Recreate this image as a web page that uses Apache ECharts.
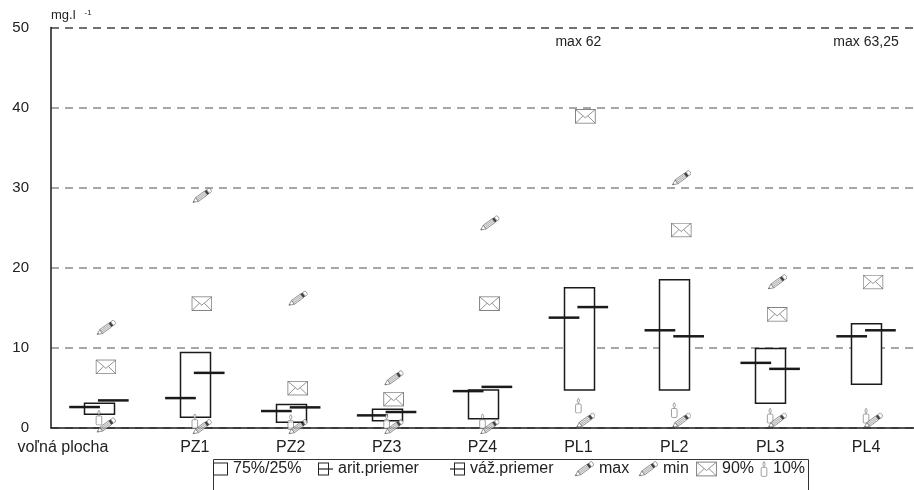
<!DOCTYPE html>
<html>
<head>
<meta charset="utf-8">
<script src="https://cdn.jsdelivr.net/npm/echarts@6/dist/echarts.min.js"></script>
<style>
  html, body { margin: 0; padding: 0; background: #fff; }
  #chart { width: 914px; height: 490px; }
</style>
</head>
<body>
<div id="chart"></div>
<script>
// Sampling points
const categories = ['voľná plocha', 'PZ1', 'PZ2', 'PZ3', 'PZ4', 'PL1', 'PL2', 'PL3', 'PL4'];
// Quartiles (mg/l)
const q25 = [1.67, 1.3, 0.67, 0.87, 1.12, 4.7, 4.7, 3.04, 5.44];
const q75 = [3.04, 9.39, 2.91, 2.29, 4.7, 17.48, 18.48, 9.89, 13.0];
// Arithmetic and weighted means
const aritMean = [2.58, 3.7, 2.08, 1.54, 4.57, 13.75, 12.17, 8.1, 11.42];
const weightedMean = [3.41, 6.85, 2.54, 1.96, 5.1, 15.07, 11.42, 7.35, 12.17];
// Extremes and percentiles
const maxVal = [12.5, 29.0, 16.15, 6.2, 25.55, 62, 31.2, 18.2, 63.25];
const minVal = [0.3, 0.1, 0.1, 0.1, 0.1, 0.9, 0.9, 0.9, 0.9];
const p90 = [7.6, 15.5, 4.94, 3.57, 15.5, 38.9, 24.7, 14.16, 18.2];
const p10 = [1.27, 0.8, 0.7, 0.8, 0.8, 2.76, 2.2, 1.5, 1.5];
// Value axis ticks
const yTicks = [0, 10, 20, 30, 40, 50];

const FONT = "'Liberation Sans', Arial, sans-serif";
const INK = '#1a1a1a';

function svgUri(svg) {
  return 'image://data:image/svg+xml;charset=utf-8,' + encodeURIComponent(svg);
}

// Pencil: tip at lower left, eraser at upper right
const pencilSvg =
  '<svg xmlns="http://www.w3.org/2000/svg" width="40" height="32" viewBox="0 0 20 16">' +
  '<g transform="translate(1.2,14.8) rotate(-36)">' +
  '<path d="M0,0 L5,-2.4 L5,2.4 Z" fill="#fff" stroke="#555" stroke-width="0.7"/>' +
  '<path d="M0,0 L1.6,-0.75 L1.6,0.75 Z" fill="#333"/>' +
  '<rect x="5" y="-2.4" width="11" height="4.8" fill="#e4e4e4" stroke="#555" stroke-width="0.7"/>' +
  '<line x1="5" y1="-0.8" x2="16" y2="-0.8" stroke="#666" stroke-width="0.5"/>' +
  '<line x1="5" y1="0.8" x2="16" y2="0.8" stroke="#666" stroke-width="0.5"/>' +
  '<rect x="16" y="-2.4" width="2.4" height="4.8" fill="#111"/>' +
  '<rect x="18.4" y="-2.4" width="3.4" height="4.8" rx="1.4" fill="#fff" stroke="#555" stroke-width="0.7"/>' +
  '</g></svg>';

// Envelope
const envelopeSvg =
  '<svg xmlns="http://www.w3.org/2000/svg" width="42" height="30" viewBox="0 0 21 15">' +
  '<rect x="0.6" y="0.6" width="19.8" height="13.8" fill="#fff" stroke="#555" stroke-width="0.9"/>' +
  '<path d="M0.6,0.6 L10.5,9 L20.4,0.6" fill="none" stroke="#555" stroke-width="0.8"/>' +
  '<path d="M0.6,14.4 L8,7.2 M20.4,14.4 L13,7.2" fill="none" stroke="#555" stroke-width="0.8"/>' +
  '</svg>';
// Envelope padded to a 16px-high legend slot
const envelopeLegendSvg =
  '<svg xmlns="http://www.w3.org/2000/svg" width="42" height="32" viewBox="0 -0.5 21 16">' +
  '<rect x="0.6" y="0.6" width="19.8" height="13.8" fill="#fff" stroke="#555" stroke-width="0.9"/>' +
  '<path d="M0.6,0.6 L10.5,9 L20.4,0.6" fill="none" stroke="#555" stroke-width="0.8"/>' +
  '<path d="M0.6,14.4 L8,7.2 M20.4,14.4 L13,7.2" fill="none" stroke="#555" stroke-width="0.8"/>' +
  '</svg>';

// Candle
const candleSvg =
  '<svg xmlns="http://www.w3.org/2000/svg" width="16" height="32" viewBox="0 0 8 16">' +
  '<path d="M4,0.6 C5.6,2.6 5.4,4.6 4,5.2 C2.6,4.6 2.4,2.6 4,0.6 Z" fill="#fff" stroke="#555" stroke-width="0.7"/>' +
  '<line x1="4" y1="5.2" x2="4" y2="6.4" stroke="#555" stroke-width="0.7"/>' +
  '<rect x="1.2" y="6.4" width="5.6" height="9" rx="1.2" fill="#fff" stroke="#555" stroke-width="0.7"/>' +
  '</svg>';

const boxIconSvg =
  '<svg xmlns="http://www.w3.org/2000/svg" width="15" height="16" viewBox="0 0 15 16">' +
  '<rect x="0.5" y="2" width="14" height="12" fill="#fff" stroke="#222" stroke-width="1"/></svg>';
const aritIconSvg =
  '<svg xmlns="http://www.w3.org/2000/svg" width="15" height="16" viewBox="0 0 15 16">' +
  '<rect x="0.5" y="2" width="10" height="12" fill="#fff" stroke="#222" stroke-width="1"/>' +
  '<line x1="0.5" y1="8" x2="15" y2="8" stroke="#222" stroke-width="1.2"/></svg>';
const weightIconSvg =
  '<svg xmlns="http://www.w3.org/2000/svg" width="15" height="16" viewBox="0 0 15 16">' +
  '<rect x="4.5" y="2" width="10" height="12" fill="#fff" stroke="#222" stroke-width="1"/>' +
  '<line x1="0" y1="8" x2="14.5" y2="8" stroke="#222" stroke-width="1.2"/></svg>';

const pencil = svgUri(pencilSvg);
const envelope = svgUri(envelopeSvg);
const candle = svgUri(candleSvg);

const BOX_FRAC = 0.31;

// Legend entries: each gets its own slot inside a framed strip
const LEGEND_TOP = 461;
const LEGEND_ITEM_H = 16;
const legendEntries = [
  { name: '75%/25%', icon: svgUri(boxIconSvg), left: 213, w: 15 },
  { name: 'arit.priemer', icon: svgUri(aritIconSvg), left: 318, w: 15 },
  { name: 'váž.priemer', icon: svgUri(weightIconSvg), left: 450, w: 15 },
  { name: 'max', icon: pencil, left: 574, w: 20 },
  { name: 'min', icon: pencil, left: 638, w: 20 },
  { name: '90%', icon: svgUri(envelopeLegendSvg), left: 696, w: 21 },
  { name: '10%', icon: candle, left: 760, w: 8 }
];

function pairs(arr) { return arr.map((v, i) => [i, v]); }

const chart = echarts.init(document.getElementById('chart'), null, { renderer: 'canvas' });

chart.setOption({
  animation: false,
  backgroundColor: '#fff',
  textStyle: { fontFamily: FONT },
  grid: { left: 51, right: -10, top: 27.5, bottom: 62.3, containLabel: false },
  xAxis: {
    type: 'category',
    data: categories.map((c, i) => i === 0
      ? { value: c, textStyle: { padding: [0, 72, 0, 0] } }
      : c),
    axisLine: { show: true, lineStyle: { color: INK, width: 1.5 } },
    axisTick: { show: false },
    axisLabel: { color: '#222', fontSize: 16, fontFamily: FONT, margin: 12, interval: 0 },
    splitLine: { show: false }
  },
  yAxis: {
    type: 'value',
    min: yTicks[0],
    max: yTicks[yTicks.length - 1],
    interval: yTicks[1] - yTicks[0],
    name: '{a|mg.l}{b|-1}',
    nameLocation: 'end',
    nameGap: 5,
    nameTextStyle: {
      align: 'left',
      verticalAlign: 'bottom',
      rich: {
        a: { fontSize: 13, color: '#222', fontFamily: FONT },
        b: { fontSize: 8, color: '#222', fontFamily: FONT, padding: [0, 0, 6, 9] }
      }
    },
    axisLine: { show: true, lineStyle: { color: INK, width: 1.5 } },
    axisTick: { show: false },
    axisLabel: { color: '#222', fontSize: 15, fontFamily: FONT, margin: 22 },
    splitLine: {
      show: true,
      lineStyle: {
        color: ['#8a8a8a', '#8a8a8a', '#8a8a8a', '#8a8a8a', '#8a8a8a', '#444'],
        width: 1.5,
        type: [8, 6]
      }
    }
  },
  graphic: [{
    type: 'rect',
    left: 211,
    top: 457,
    shape: { width: 595, height: 60 },
    style: { fill: 'none', stroke: '#333', lineWidth: 1 },
    silent: true
  }],
  legend: legendEntries.map(e => ({
    left: e.left,
    top: LEGEND_TOP,
    padding: 0,
    selectedMode: false,
    itemWidth: e.w,
    itemHeight: LEGEND_ITEM_H,
    textStyle: { color: '#222', fontSize: 16, fontFamily: FONT },
    data: [{ name: e.name, icon: e.icon }]
  })),
  series: [
    {
      name: '75%/25%',
      type: 'custom',
      z: 2,
      data: categories.map((c, i) => [i, q25[i], q75[i]]),
      encode: { x: 0, y: [1, 2] },
      renderItem(params, api) {
        const i = api.value(0);
        const top = api.coord([i, api.value(2)]);
        const bot = api.coord([i, api.value(1)]);
        const w = api.size([1, 0])[0] * BOX_FRAC;
        return {
          type: 'rect',
          shape: { x: Math.round(top[0] - w / 2) + 0.5, y: top[1], width: Math.round(w), height: bot[1] - top[1] },
          style: { fill: '#fff', stroke: INK, lineWidth: 1.5 }
        };
      }
    },
    {
      name: 'arit.priemer',
      type: 'custom',
      z: 3,
      data: pairs(aritMean),
      encode: { x: 0, y: 1 },
      renderItem(params, api) {
        const p = api.coord([api.value(0), api.value(1)]);
        const w = api.size([1, 0])[0] * BOX_FRAC;
        return {
          type: 'line',
          shape: { x1: p[0] - w, y1: p[1], x2: p[0] + 1, y2: p[1] },
          style: { stroke: INK, lineWidth: 2.5 }
        };
      }
    },
    {
      name: 'váž.priemer',
      type: 'custom',
      z: 3,
      data: pairs(weightedMean),
      encode: { x: 0, y: 1 },
      renderItem(params, api) {
        const p = api.coord([api.value(0), api.value(1)]);
        const w = api.size([1, 0])[0] * BOX_FRAC;
        return {
          type: 'line',
          shape: { x1: p[0] - 1, y1: p[1], x2: p[0] + w, y2: p[1] },
          style: { stroke: INK, lineWidth: 2.5 }
        };
      }
    },
    {
      name: 'max',
      type: 'scatter',
      z: 5,
      clip: true,
      data: pairs(maxVal),
      symbol: pencil,
      symbolSize: [20, 16],
      symbolOffset: [7, 0]
    },
    {
      name: '10%',
      type: 'scatter',
      z: 5,
      data: pairs(p10),
      symbol: candle,
      symbolSize: [8, 16],
      symbolOffset: [0, 0]
    },
    {
      name: 'min',
      type: 'scatter',
      z: 6,
      data: pairs(minVal),
      symbol: pencil,
      symbolSize: [20, 16],
      symbolOffset: [7, 0]
    },
    {
      name: '90%',
      type: 'scatter',
      z: 5,
      data: pairs(p90),
      symbol: envelope,
      symbolSize: [21, 15],
      symbolOffset: [7, 0]
    },
    {
      // Maxima above the axis range are written out at the top of the plot
      name: 'max-over',
      type: 'custom',
      z: 7,
      data: pairs(maxVal),
      encode: { x: 0, y: 1 },
      renderItem(params, api) {
        const v = api.value(1);
        const yMax = yTicks[yTicks.length - 1];
        if (v <= yMax) return null;
        const p = api.coord([api.value(0), yMax]);
        return {
          type: 'text',
          x: p[0],
          y: p[1] + 15,
          style: {
            text: 'max ' + String(v).replace('.', ','),
            fill: '#222',
            font: '14px ' + FONT,
            align: 'center',
            verticalAlign: 'middle'
          }
        };
      }
    }
  ]
});
</script>
</body>
</html>
